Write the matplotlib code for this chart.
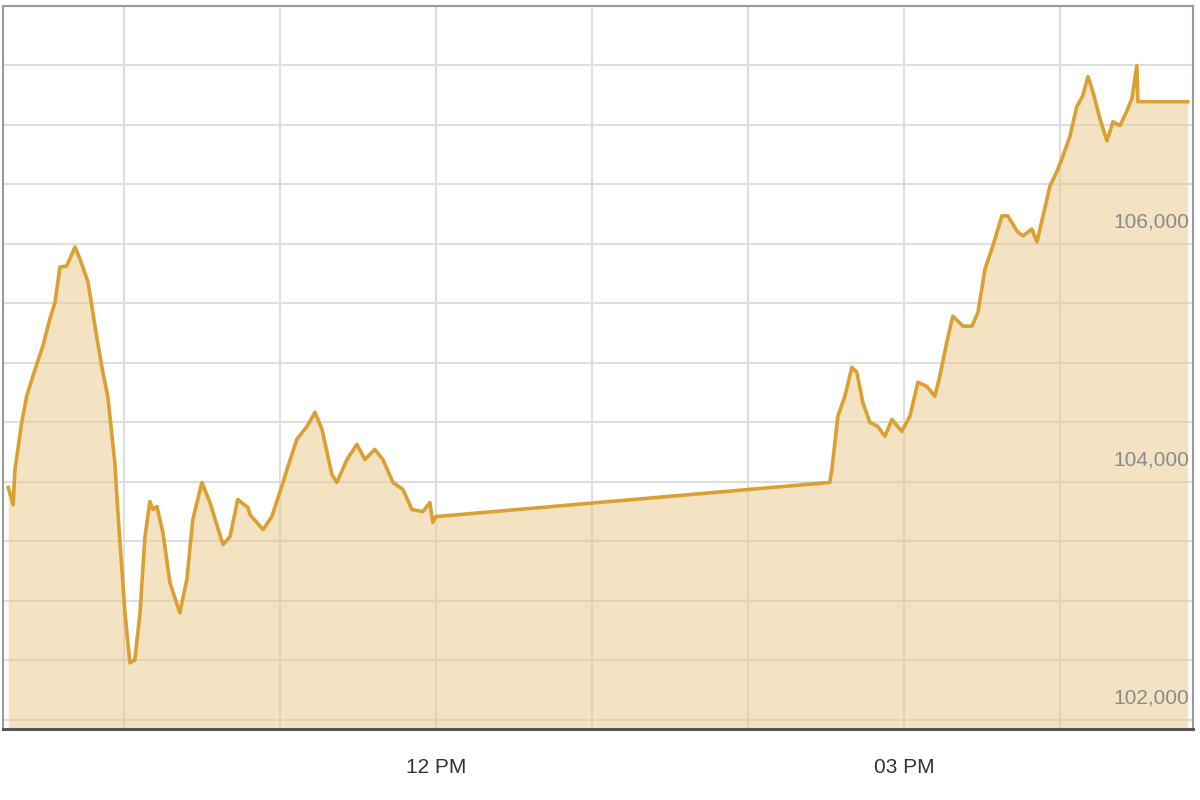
import matplotlib
matplotlib.use("Agg")
import matplotlib.pyplot as plt
import matplotlib.dates as mdates
import matplotlib.transforms as mtransforms
import pandas as pd

# intraday index values
times = [
    "09:15:30", "09:17:24", "09:18:06", "09:20:42", "09:22:36", "09:25:00",
    "09:28:48", "09:31:30", "09:33:30", "09:35:24", "09:38:00", "09:41:12",
    "09:43:06", "09:46:12", "09:49:30", "09:51:54", "09:53:48", "09:56:30",
    "09:57:42", "10:00:24", "10:02:18", "10:04:12", "10:06:12", "10:08:06",
    "10:10:00", "10:11:12", "10:12:42", "10:15:00", "10:17:42", "10:21:30",
    "10:24:12", "10:26:30", "10:30:00", "10:33:06", "10:38:06", "10:40:48",
    "10:43:48", "10:47:42", "10:48:30", "10:53:30", "10:56:54", "11:01:12",
    "11:03:06", "11:06:30", "11:10:24", "11:13:30", "11:16:12", "11:20:00",
    "11:21:54", "11:25:48", "11:29:36", "11:32:42", "11:36:30", "11:39:36",
    "11:43:30", "11:47:18", "11:50:48", "11:55:00", "11:57:42", "11:58:48",
    "12:00:00",
    "14:31:30", "14:32:18", "14:34:36", "14:37:18", "14:40:00", "14:41:54",
    "14:44:12", "14:46:54", "14:50:00", "14:52:42", "14:55:24", "14:59:12",
    "15:02:18", "15:05:24", "15:08:48", "15:11:54", "15:13:48", "15:16:30",
    "15:18:48", "15:22:42", "15:26:12", "15:28:30", "15:31:12", "15:34:12",
    "15:37:42", "15:40:00", "15:43:30", "15:45:48", "15:49:12", "15:51:12",
    "15:53:30", "15:56:12", "15:58:48", "16:01:12", "16:03:48", "16:06:30",
    "16:08:48", "16:10:48", "16:12:42", "16:15:24", "16:18:06", "16:20:24",
    "16:23:06", "16:25:48", "16:27:42", "16:29:36", "16:30:00", "16:49:12",
]
values = [
    103954, 103810, 104105, 104500, 104720, 104890,
    105141, 105368, 105510, 105806, 105815, 105975,
    105874, 105680, 105225, 104922, 104720, 104164,
    103743, 102900, 102480, 102505, 102900, 103541,
    103836, 103768, 103794, 103575, 103154, 102900,
    103179, 103684, 103996, 103827, 103474, 103541,
    103853, 103785, 103726, 103600, 103709, 103996,
    104130, 104358, 104467, 104585, 104442, 104063,
    103996, 104189, 104316, 104189, 104274, 104189,
    103996, 103937, 103768, 103751, 103827, 103659,
    103709,
    103996, 104105, 104552, 104720, 104964, 104922,
    104669, 104501, 104467, 104383, 104526, 104425,
    104552, 104838, 104804, 104720, 104888, 105175,
    105394, 105310, 105310, 105427, 105790, 105983,
    106236, 106236, 106109, 106067, 106126, 106017,
    106236, 106488, 106606, 106741, 106901, 107154,
    107246, 107406, 107280, 107053, 106867, 107027,
    106994, 107120, 107221, 107499, 107196, 107196,
]
grid_hours = [10, 11, 12, 13, 14, 15, 16]
labelled_hours = [12, 15]
y_labels = [102000, 104000, 106000]

day = "2024-01-02 "
t = pd.to_datetime([day + s for s in times])
x_start = pd.Timestamp(day + "09:13:30")
x_end = pd.Timestamp(day + "16:51:12")
y_min, y_max = 101924, 108000

plt.rcParams["font.family"] = ["Liberation Sans", "DejaVu Sans"]

fig = plt.figure(figsize=(12, 8), dpi=100)
ax = fig.add_axes([3 / 1200, 1 - 729 / 800, 1190 / 1200, 723 / 800])

ax.fill_between(t, values, y_min, color="#E9C987", alpha=0.5, lw=0, zorder=2)
ax.plot(t, values, color="#DBA032", lw=2.6, zorder=3)

ax.set_xlim(x_start, x_end)
ax.set_ylim(y_min, y_max)

# grid
ax.set_yticks(range(102000, 108001, 500))
ax.set_xticks([pd.Timestamp(day + "%02d:00" % h) for h in grid_hours])
ax.grid(True, color="#DEDEDE", lw=1.5, zorder=1)
ax.set_axisbelow(True)


def fmt_hour(x, pos):
    d = mdates.num2date(x)
    if d.hour in labelled_hours:
        return d.strftime("%I %p")
    return ""


ax.xaxis.set_major_formatter(plt.FuncFormatter(fmt_hour))
ax.tick_params(axis="x", length=0, pad=21, labelsize=15, labelcolor="#333333")
ax.tick_params(axis="y", length=0, labelleft=False)

# y labels sit inside the plot, right side, just above their grid line
trans = mtransforms.blended_transform_factory(ax.transAxes, ax.transData)
offset = mtransforms.offset_copy(trans, fig=fig, x=-4, y=12, units="dots")
for v in y_labels:
    ax.text(1.0, v, f"{v:,}", transform=offset, ha="right", va="bottom",
            fontsize=15, color="#8A8A8A", zorder=4)

for side in ["left", "top", "right"]:
    ax.spines[side].set_color("#9A9A9A")
    ax.spines[side].set_linewidth(1.5)
ax.spines["bottom"].set_color("#555555")
ax.spines["bottom"].set_linewidth(2.2)

fig.savefig("out.png", dpi=100, facecolor="white")
